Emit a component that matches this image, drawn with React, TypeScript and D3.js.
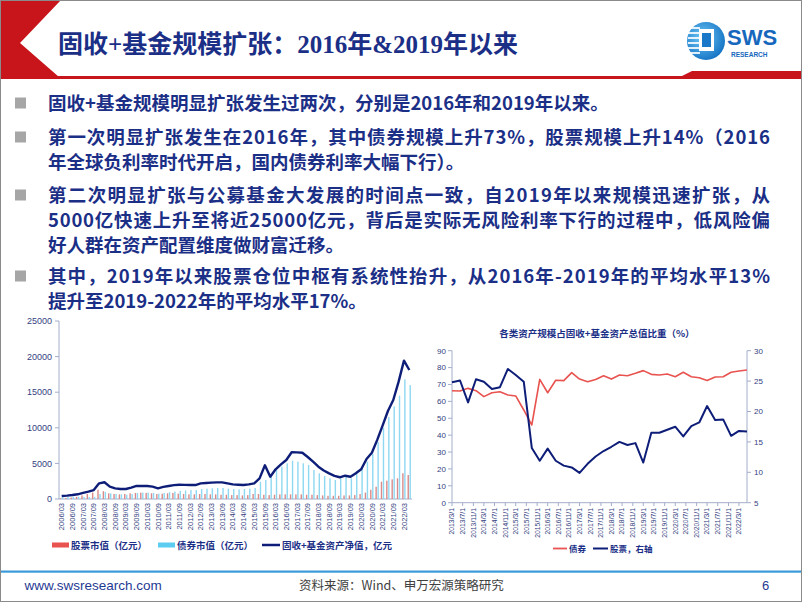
import React from "react";
import * as d3 from "d3";

const NAVY = "#1B2F87";
const AXIS = "#A3AECB";
const TICK = "#34427F";
const CJK = "'Noto Sans CJK SC', sans-serif";
const SANS = "'Liberation Sans', Arial, sans-serif";

// ---------- Left chart data (quarterly, 2006/03 – 2022/06, 亿元) ----------
const leftYears = d3.range(2006, 2023);
const leftQuarters: string[] = [];
for (const yr of leftYears) for (const m of ["03", "06", "09", "12"]) leftQuarters.push(`${yr}/${m}`);
const categories = leftQuarters.slice(0, 66);

const totalNav = [
  420, 480, 560, 660, 850, 1025, 1260, 2200, 2350, 1730,
  1500, 1400, 1400, 1600, 1830, 1830, 1830, 1730, 1500, 1700,
  1830, 1950, 2010, 1980, 1960, 1960, 2200, 2250, 2300, 2330,
  2340, 2200, 2050, 2000, 1960, 2050, 2200, 2900, 4730, 3130,
  4170, 4870, 5480, 6560, 6550, 6500, 5900, 5240, 4540, 4000,
  3600, 3250, 3050, 3270, 3130, 3610, 4170, 5620, 6500, 8300,
  10300, 12360, 13900, 16480, 19430, 18120,
];
const stockValue = [
  100, 150, 200, 300, 500, 700, 900, 1300, 1100, 800,
  700, 650, 700, 800, 850, 900, 850, 800, 700, 750,
  800, 850, 750, 700, 650, 650, 700, 700, 650, 650,
  600, 600, 550, 550, 500, 550, 700, 700, 600, 550,
  600, 650, 650, 650, 650, 650, 600, 600, 550, 500,
  450, 450, 450, 500, 500, 550, 700, 900, 1300, 1730,
  2430, 2570, 2760, 2900, 3610, 3370,
];
const bondValue = [
  250, 280, 300, 320, 300, 280, 300, 700, 1000, 800,
  700, 650, 600, 700, 850, 900, 900, 850, 750, 850,
  950, 1050, 1150, 1200, 1250, 1250, 1400, 1450, 1500, 1550,
  1550, 1450, 1400, 1350, 1400, 1450, 1540, 2430, 2670, 3370,
  4070, 4540, 5010, 5380, 5240, 5010, 4780, 4070, 3610, 3230,
  2900, 2670, 2900, 3130, 2900, 3610, 4540, 5240, 6320, 8000,
  10000, 11500, 13000, 14500, 16800, 16000,
];
const leftYTicks = [0, 5000, 10000, 15000, 20000, 25000];

// ---------- Right chart data (quarterly, 2013/3 – 2022/6, %) ----------
const bondShare = [
  66.3, 66.1, 67.7, 66.3, 62.8, 65.1, 65.7, 63.8, 63.2, 54.9,
  46.0, 73.0, 65.1, 72.5, 72.3, 77.0, 73.2, 71.6, 73.0, 75.2,
  73.2, 75.6, 75.2, 76.6, 78.2, 76.0, 75.6, 76.2, 74.6, 77.2,
  74.6, 74.0, 72.3, 74.4, 74.6, 77.2, 78.0, 78.6,
];
const stockShare = [
  24.8, 25.1, 21.5, 25.3, 24.9, 23.7, 24.0, 27.0, 26.0, 24.9,
  14.0, 11.9, 13.9, 11.9, 11.1, 10.8, 9.9, 11.4, 12.6, 13.5,
  14.2, 15.0, 14.5, 14.8, 11.6, 16.5, 16.5, 17.0, 17.5, 15.9,
  17.6, 18.2, 20.9, 18.6, 18.7, 16.0, 16.8, 16.7,
];
const rightDates = bondShare.map((_, i) => d3.timeMonth.offset(new Date(2013, 2, 1), i * 3));
const rightTickDates = d3.range(0, 28).map((k) => d3.timeMonth.offset(new Date(2013, 2, 1), k * 4));
const rightLeftTicks = [0, 10, 20, 30, 40, 50, 60, 70, 80, 90];
const rightRightTicks = [5, 10, 15, 20, 25, 30];

// ---------- Text ----------
const title = "固收+基金规模扩张：2016年&2019年以来";
const bullets: { lines: string[]; full: boolean[] }[] = [
  { lines: ["固收+基金规模明显扩张发生过两次，分别是2016年和2019年以来。"], full: [false] },
  {
    lines: ["第一次明显扩张发生在2016年，其中债券规模上升73%，股票规模上升14%（2016", "年全球负利率时代开启，国内债券利率大幅下行）。"],
    full: [true, false],
  },
  {
    lines: [
      "第二次明显扩张与公募基金大发展的时间点一致，自2019年以来规模迅速扩张，从",
      "5000亿快速上升至将近25000亿元，背后是实际无风险利率下行的过程中，低风险偏",
      "好人群在资产配置维度做财富迁移。",
    ],
    full: [true, true, false],
  },
  {
    lines: ["其中，2019年以来股票仓位中枢有系统性抬升，从2016年-2019年的平均水平13%", "提升至2019-2022年的平均水平17%。"],
    full: [true, false],
  },
];
const bulletTops = [103, 137, 195, 276];

function LeftChart() {
  const x = d3.scaleBand<string>().domain(categories).range([59, 412]);
  const y = d3.scaleLinear().domain([0, 25000]).range([499, 321]);
  const cx = (i: number) => (x(categories[i]) as number) + x.bandwidth() / 2;
  const line = d3
    .line<number>()
    .x((_, i) => cx(i))
    .y((d) => y(d));
  return (
    <g>
      <line x1={59} x2={59} y1={321} y2={499} stroke={AXIS} />
      <line x1={59} x2={412} y1={499} y2={499} stroke={AXIS} />
      {leftYTicks.map((t) => (
        <g key={t}>
          <line x1={55} x2={59} y1={y(t)} y2={y(t)} stroke={AXIS} />
          <text x={52} y={y(t)} dy="0.35em" textAnchor="end" fontSize={9} fontFamily={SANS} fill={TICK}>
            {t}
          </text>
        </g>
      ))}
      {categories.map((c, i) => (
        <g key={c}>
          <rect x={cx(i) - 1.8} width={1.4} y={y(stockValue[i])} height={499 - y(stockValue[i])} fill="#D98A88" />
          <rect x={cx(i) + 0.2} width={1.4} y={y(bondValue[i])} height={499 - y(bondValue[i])} fill="#8ED8F2" />
        </g>
      ))}
      <path d={line(totalNav) || ""} fill="none" stroke="#0E1E78" strokeWidth={2.4} strokeLinejoin="round" />
      {categories.map((c, i) =>
        i % 2 === 0 ? (
          <text
            key={c}
            transform={`translate(${cx(i)},503) rotate(-90)`}
            textAnchor="end"
            dy="0.35em"
            fontSize={7.5}
            fontFamily={SANS}
            fill={TICK}
          >
            {c}
          </text>
        ) : null
      )}
      <rect x={52} y={542.5} width={17} height={5} fill="#E8534F" />
      <text x={71} y={549} fontSize={9.5} fontWeight="bold" fontFamily={CJK} fill={NAVY}>
        股票市值（亿元）
      </text>
      <rect x={158} y={542.5} width={17} height={5} fill="#5CCDF0" />
      <text x={177} y={549} fontSize={9.5} fontWeight="bold" fontFamily={CJK} fill={NAVY}>
        债券市值（亿元）
      </text>
      <line x1={262} x2={280} y1={545} y2={545} stroke="#0E1E78" strokeWidth={2.5} />
      <text x={282} y={549} fontSize={9.5} fontWeight="bold" fontFamily={CJK} fill={NAVY}>
        固收+基金资产净值，亿元
      </text>
    </g>
  );
}

function RightChart() {
  const x = d3.scaleTime().domain([new Date(2013, 2, 1), new Date(2022, 5, 1)]).range([452, 747]);
  const yL = d3.scaleLinear().domain([0, 90]).range([502.7, 350.7]);
  const yR = d3.scaleLinear().domain([5, 30]).range([502.7, 350.7]);
  const bondLine = d3
    .line<number>()
    .x((_, i) => x(rightDates[i]))
    .y((d) => yL(d));
  const stockLine = d3
    .line<number>()
    .x((_, i) => x(rightDates[i]))
    .y((d) => yR(d));
  const fmt = (d: Date) => `${d.getFullYear()}/${d.getMonth() + 1}/1`;
  return (
    <g>
      <text x={597} y={337} textAnchor="middle" fontSize={9.5} fontWeight="bold" fontFamily={CJK} fill={NAVY}>
        各类资产规模占固收+基金资产总值比重（%）
      </text>
      <line x1={452} x2={452} y1={350.7} y2={502.7} stroke={AXIS} />
      <line x1={747} x2={747} y1={350.7} y2={502.7} stroke={AXIS} />
      <line x1={452} x2={747} y1={502.7} y2={502.7} stroke={AXIS} />
      {rightLeftTicks.map((t) => (
        <g key={t}>
          <line x1={448} x2={452} y1={yL(t)} y2={yL(t)} stroke={AXIS} />
          <text x={446} y={yL(t)} dy="0.35em" textAnchor="end" fontSize={8} fontFamily={SANS} fill={TICK}>
            {t}
          </text>
        </g>
      ))}
      {rightRightTicks.map((t) => (
        <g key={t}>
          <line x1={747} x2={751} y1={yR(t)} y2={yR(t)} stroke={AXIS} />
          <text x={754} y={yR(t)} dy="0.35em" textAnchor="start" fontSize={8} fontFamily={SANS} fill={TICK}>
            {t}
          </text>
        </g>
      ))}
      {rightTickDates.map((d) => (
        <g key={d.getTime()}>
          <line x1={x(d)} x2={x(d)} y1={502.7} y2={506} stroke={AXIS} />
          <text
            transform={`translate(${x(d)},508) rotate(-90)`}
            textAnchor="end"
            dy="0.35em"
            fontSize={6.8}
            fontFamily={SANS}
            fill={TICK}
          >
            {fmt(d)}
          </text>
        </g>
      ))}
      <path d={bondLine(bondShare) || ""} fill="none" stroke="#E8534F" strokeWidth={1.6} strokeLinejoin="round" />
      <path d={stockLine(stockShare) || ""} fill="none" stroke="#0E1E78" strokeWidth={2} strokeLinejoin="round" />
      <line x1={553} x2={567} y1={548.5} y2={548.5} stroke="#E8534F" strokeWidth={1.8} />
      <text x={569} y={551.5} fontSize={8.5} fontWeight="bold" fontFamily={CJK} fill={NAVY}>
        债券
      </text>
      <line x1={593} x2={608} y1={548.5} y2={548.5} stroke="#0E1E78" strokeWidth={2} />
      <text x={610} y={551.5} fontSize={8.5} fontWeight="bold" fontFamily={CJK} fill={NAVY}>
        股票，右轴
      </text>
    </g>
  );
}

function Header() {
  return (
    <g>
      <polygon points="0,0 61,0 20,43 59,77 0,77" fill="#C8151B" />
      <rect x={0} y={76} width={802} height={3} fill="#C8151B" />
      <polygon points="676,79 692,71 802,71 802,79" fill="#C8151B" />
      <text x={58} y={53} fontSize={25} fontWeight="bold" fontFamily="'Liberation Serif', 'Noto Sans CJK SC', serif" fill={NAVY}>
        {title}
      </text>
      <defs>
        <radialGradient id="lg" cx="40%" cy="40%" r="70%">
          <stop offset="0%" stopColor="#6EC6F5" />
          <stop offset="100%" stopColor="#0D6CC0" />
        </radialGradient>
      </defs>
      <circle cx={706} cy={41} r={19} fill="url(#lg)" />
      {[27, 32, 37, 42, 47, 52].map((yy) => (
        <rect key={yy} x={688} y={yy} width={12} height={2} fill="#fff" opacity={0.85} />
      ))}
      <rect x={699} y={29} width={15} height={22} fill="#fff" />
      <rect x={702} y={33} width={9} height={14} fill="#1A78C8" />
      <text x={727} y={45} fontSize={22} fontWeight="bold" fontFamily={SANS} fill="#1768BD">
        SWS
      </text>
      <text x={731} y={57} fontSize={6.5} fontWeight="bold" fontFamily={SANS} fill="#1768BD">
        RESEARCH
      </text>
    </g>
  );
}

function Bullets() {
  const out: React.ReactNode[] = [];
  bullets.forEach((b, bi) => {
    const top = bulletTops[bi];
    out.push(<rect key={`sq${bi}`} x={15} y={top - 5.5} width={11} height={11} fill="#A6A6A6" />);
    b.lines.forEach((ln, li) => {
      const cy = top + li * 25;
      out.push(
        <text
          key={`t${bi}-${li}`}
          x={48}
          y={cy + 6.5}
          fontSize={18.5}
          fontWeight="bold"
          fontFamily={CJK}
          fill={NAVY}
          {...(b.full[li] ? { textLength: 722, lengthAdjust: "spacing" } : {})}
        >
          {ln}
        </text>
      );
    });
  });
  return <g>{out}</g>;
}

function Footer() {
  return (
    <g>
      <rect x={0} y={570.5} width={802} height={2.2} fill="#3A9AD9" />
      <text x={24.5} y={590} fontSize={13.5} fontFamily={SANS} fill="#1F3A93">
        www.swsresearch.com
      </text>
      <text x={299} y={590} fontSize={12.5} fontFamily={CJK} fill="#404040">
        资料来源：Wind、申万宏源策略研究
      </text>
      <text x={762} y={590} fontSize={13} fontFamily={SANS} fill="#1F3A93">
        6
      </text>
    </g>
  );
}

export default function App() {
  return (
    <svg width={802} height={602} style={{ position: "absolute", left: 0, top: 0, background: "#fff" }}>
      <rect x={0} y={0} width={802} height={602} fill="#fff" />
      <Header />
      <Bullets />
      <LeftChart />
      <RightChart />
      <Footer />
      <rect x={0.5} y={0.5} width={801} height={601} fill="none" stroke="#8A8A8A" />
    </svg>
  );
}
